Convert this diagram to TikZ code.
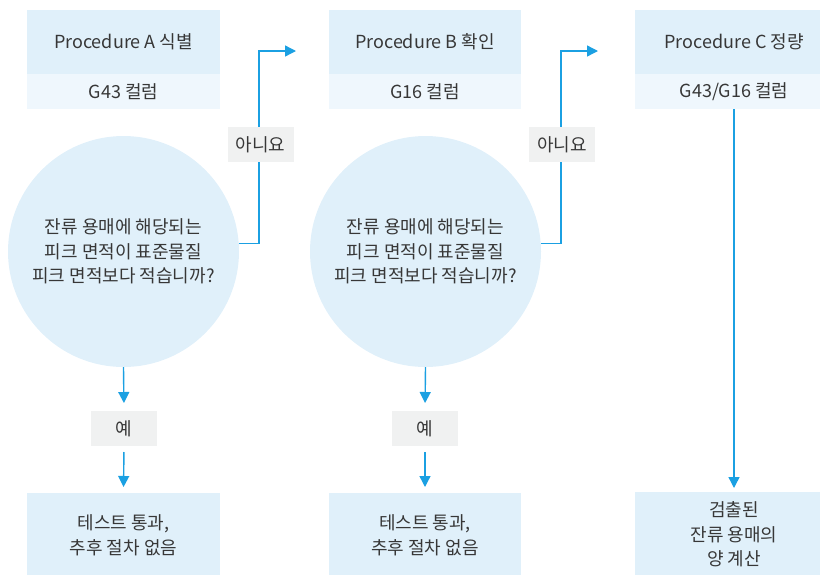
\documentclass[tikz,border=0pt]{standalone}
\usepackage{fontspec}
\setmainfont{Noto Sans CJK KR}
\usetikzlibrary{arrows.meta}
\definecolor{hdr}{RGB}{224,240,250}
\definecolor{sub}{RGB}{239,247,253}
\definecolor{lbl}{RGB}{240,241,241}
\definecolor{arr}{RGB}{27,160,226}
\definecolor{txt}{RGB}{55,55,55}
\tikzset{
  base/.style={inner sep=0pt, outer sep=0pt, text=txt, font=\fontsize{18}{24.5}\selectfont, align=center},
  hdrbox/.style={base, fill=hdr, minimum height=64pt},
  subbox/.style={base, fill=sub, minimum height=35pt},
  qcirc/.style={base, circle, fill=hdr, minimum size=231pt},
  lblbox/.style={base, fill=lbl, minimum width=66pt, minimum height=35pt},
  endbox/.style={base, fill=hdr, minimum height=85pt},
  conn/.style={draw=arr, line width=1.4pt, -{Triangle[length=11pt,width=11pt]}},
}
\begin{document}
\begin{tikzpicture}[x=1pt,y=-1pt]
\useasboundingbox (0,0) rectangle (820,574);
\clip (0,0) rectangle (820,574);
% column A
\node[hdrbox, minimum width=193pt] (hA) at (123.5,42) {Procedure A 식별};
\node[subbox, minimum width=193pt] (sA) at (123.5,91.5) {G43 컬럼};
\node[qcirc] (cA) at (123.5,251.5) {잔류 용매에 해당되는\\피크 면적이 표준물질\\피크 면적보다 적습니까?};
\node[endbox, minimum width=193pt] (eA) at (123.5,535.5) {테스트 통과,\\추후 절차 없음};
% column B
\node[hdrbox, minimum width=192pt] (hB) at (425,42) {Procedure B 확인};
\node[subbox, minimum width=192pt] (sB) at (425,91.5) {G16 컬럼};
\node[qcirc] (cB) at (425.5,251.5) {잔류 용매에 해당되는\\피크 면적이 표준물질\\피크 면적보다 적습니까?};
\node[endbox, minimum width=192pt] (eB) at (425,535.5) {테스트 통과,\\추후 절차 없음};
% column C
\node[hdrbox, minimum width=198pt] (hC) at (734,42) {Procedure C 정량};
\node[subbox, minimum width=198pt] (sC) at (734,91.5) {G43/G16 컬럼};
\node[endbox, minimum width=198pt] (eC) at (734,534.5) {검출된\\잔류 용매의\\양 계산};
% coordinates for "no" branches
\coordinate (kA) at (259,51);
\coordinate (tA) at (296,51);
\coordinate (kB) at (561,51);
\coordinate (tB) at (598,51);
% connectors
\draw[conn] (cA.4) -| (kA) -- (tA);
\draw[conn] (cB.4) -| (kB) -- (tB);
\node[lblbox] (nA) at (260.5,144.5) {아니요};
\node[lblbox] (nB) at (562,144.5) {아니요};
\node[lblbox] (yA) at (124,428.5) {예};
\node[lblbox] (yB) at (425,428.5) {예};
\draw[conn, shorten >=8pt] (cA.south) -- (yA.north);
\draw[conn, shorten <=6pt, shorten >=6pt] (yA.south) -- (eA.north);
\draw[conn, shorten >=8pt] (cB.south) -- (yB.north);
\draw[conn, shorten <=6pt, shorten >=6pt] (yB.south) -- (eB.north);
\draw[conn, shorten >=4pt] (sC.south) -- (eC.north);
\end{tikzpicture}
\end{document}
